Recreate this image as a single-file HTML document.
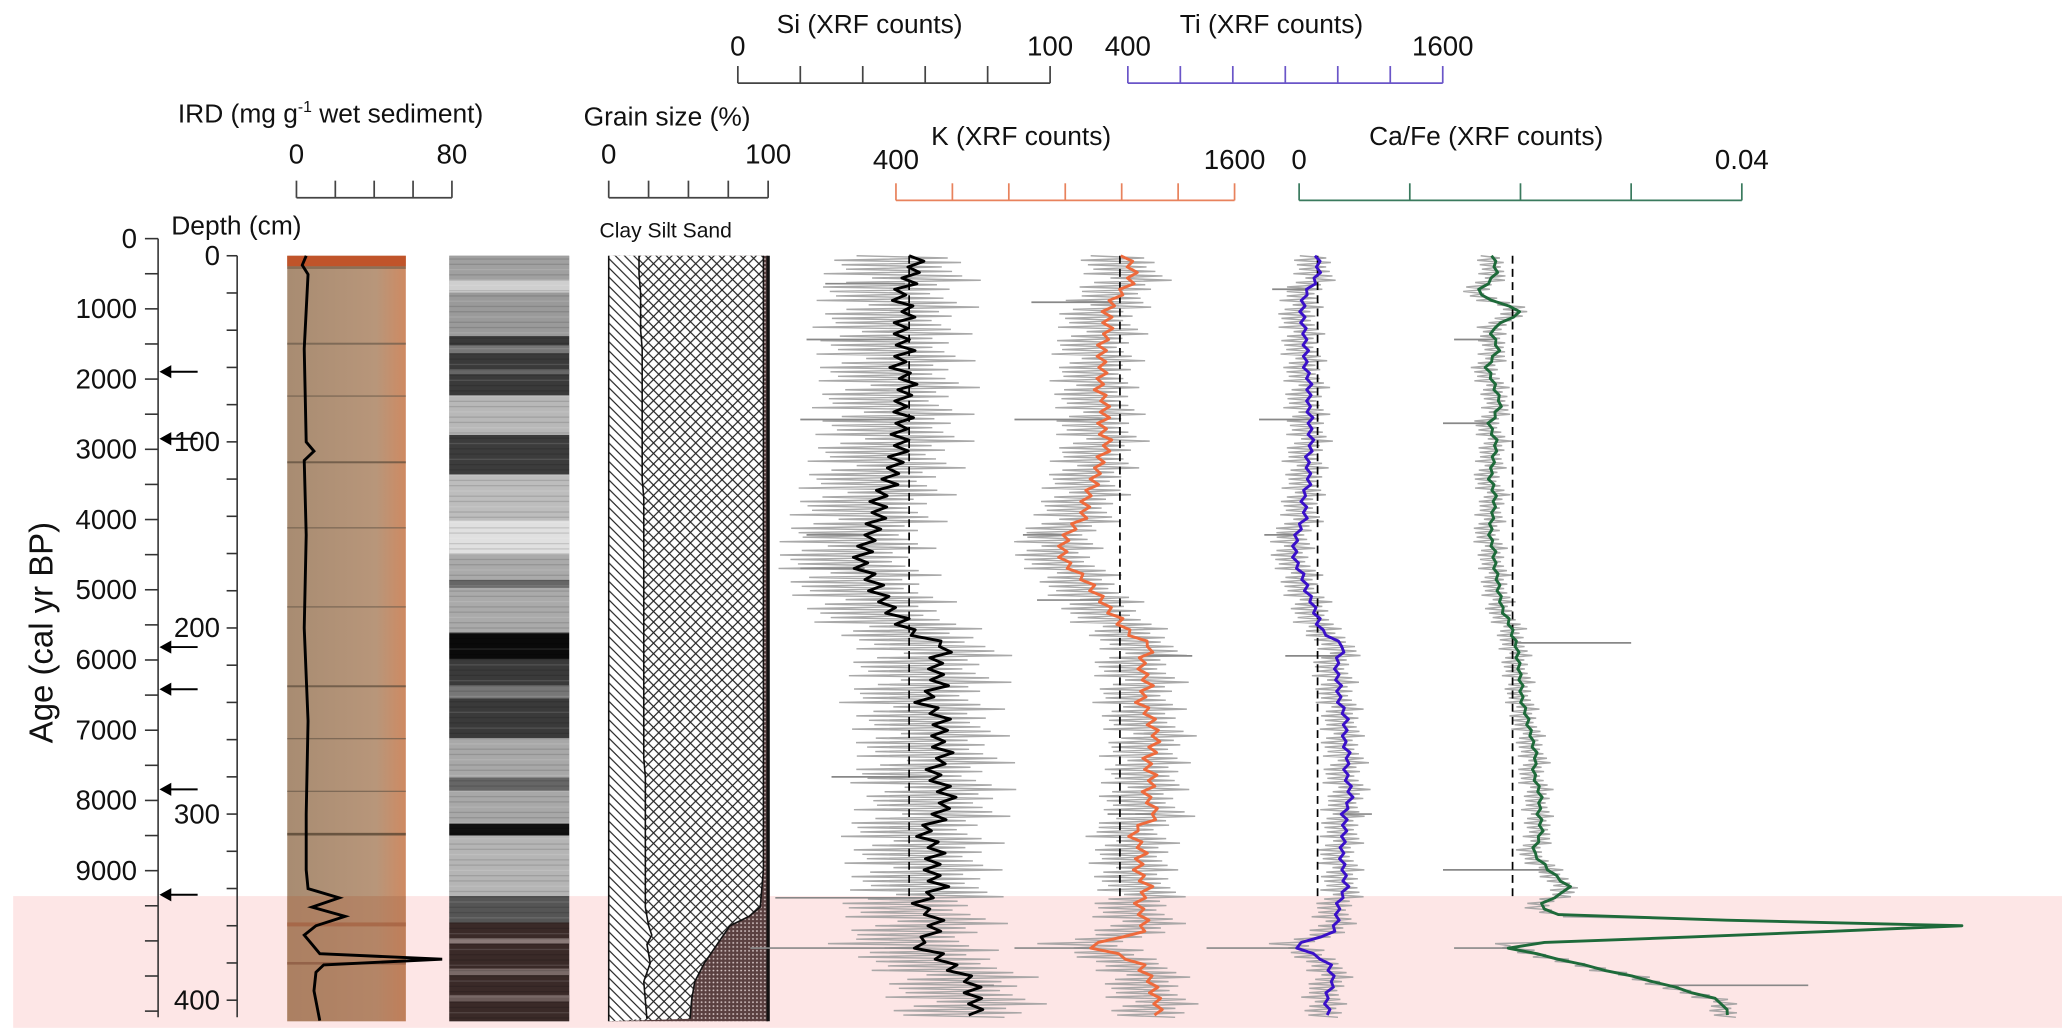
<!DOCTYPE html>
<html><head><meta charset="utf-8"><style>
html,body{margin:0;padding:0;background:#fff;}
svg{display:block;font-family:"Liberation Sans",Arial,sans-serif;}
</style></head><body>
<svg id="chart" width="2062" height="1028" viewBox="0 0 1565 780" xmlns="http://www.w3.org/2000/svg">
<defs>
<pattern id="clayPat" width="7" height="7" patternUnits="userSpaceOnUse"><rect width="7" height="7" fill="#fff"/><path d="M0,0 L7,7 M-1,6 L1,8 M6,-1 L8,1" stroke="#222" stroke-width="0.9"/></pattern>
<pattern id="siltPat" width="8" height="8" patternUnits="userSpaceOnUse"><rect width="8" height="8" fill="#fff"/><path d="M0,0 L8,8 M8,0 L0,8" stroke="#222" stroke-width="0.9"/></pattern>
<pattern id="sandPat" width="3" height="3" patternUnits="userSpaceOnUse"><rect width="3" height="3" fill="#5a4040"/><circle cx="1.5" cy="1.5" r="0.7" fill="#d8c8c8"/></pattern>
<linearGradient id="coreGrad" x1="0" x2="1" y1="0" y2="0"><stop offset="0" stop-color="#a88c72"/><stop offset="0.75" stop-color="#b8967a"/><stop offset="1" stop-color="#cf8a62"/></linearGradient>
</defs>
</svg>
<script>
// ---- data ----
const depths=[0,10,20,30,40,50,60,70,80,90,100,110,120,130,140,150,160,170,180,190,200,210,220,230,240,250,260,270,280,290,300,310,320,330,340,350,355,360,365,370,380,390,400,410];
const siVals=[57,55,52,54,51,53,52,54,51,53,52,50,48,46,44,42,39,41,44,48,54,66,62,64,60,65,63,66,62,67,64,60,63,61,64,58,62,63,61,56,68,74,75,76];
const kVals=[1210,1240,1200,1140,1150,1120,1140,1110,1140,1130,1150,1120,1100,1080,1060,1000,980,1040,1100,1150,1210,1300,1260,1290,1270,1300,1320,1290,1310,1280,1320,1240,1270,1250,1290,1260,1270,1280,1250,1060,1270,1300,1320,1330];
const tiVals=[1120,1125,1080,1060,1070,1075,1080,1090,1085,1095,1100,1080,1090,1070,1075,1040,1030,1060,1080,1110,1130,1220,1190,1200,1210,1230,1220,1240,1230,1250,1220,1230,1210,1220,1230,1200,1195,1190,1170,1020,1170,1180,1150,1170];
const caFeVals=[.0175,.0178,.0160,.0200,.0172,.0180,.0170,.0176,.0182,.0172,.0178,.0175,.0172,.0178,.0174,.0172,.0176,.0178,.0180,.0183,.0192,.0196,.0198,.0200,.0202,.0206,.0210,.0214,.0212,.0218,.0216,.0220,.0210,.0225,.0245,.0215,.024,.060,.040,.0175,.025,.032,.038,.039];
const clayPct=[19,19,20,20,20,21,21,21,21,21,21,21,21,22,22,22,22,22,22,22,22,22,22,22,22,22,22,22,23,23,23,23,23,23,23,23,24,25,27,24,26,22,23,24];
const claySiltPct=[97,97,97,97,97,97,97,97,97,97,97,97,97,97,97,97,97,97,97,97,97,97,97,97,97,97,97,97,97,97,97,97,97,97,96,95,88,76,72,68,60,54,52,51];
const irdDepths=[0,5,10,50,100,105,110,150,200,250,300,330,340,345,350,355,360,365,370,375,378,381,385,395,411];
const irdVals=[5,3,6,4,5,9,4,5,4,6,5,5,6,22,8,25,10,4,8,12,75,14,10,9,12];
const siSpikeDepths=[15,45,88,150,168,280,345,372,392];
const siSpikeVals=[28,22,20,22,20,30,12,4,82];
const kSpikeDepths=[25,88,150,185,215,300,372];
const kSpikeVals=[880,820,850,900,1450,1150,820];
const tiSpikeDepths=[18,88,150,215,300,372];
const tiSpikeVals=[950,900,920,1000,1330,700];
const caFeSpikeDepths=[45,90,208,330,372,392];
const caFeSpikeVals=[.014,.013,.030,.013,.014,.046];
const ageTicks=[0,1000,2000,3000,4000,5000,6000,7000,8000,9000];
const depthTicks=[0,100,200,300,400];
const arrowAges=[1895,2850,5816,6416,7842,9343];

// ---- scales ----
const NS="http://www.w3.org/2000/svg";
const svg=document.getElementById('chart');
const yD=d=>194+d*1.4125;
const yA=a=>181+a*0.0533;
const lin=(d0,d1,r0,r1)=>v=>r0+(v-d0)/(d1-d0)*(r1-r0);
const xSi=lin(0,100,560,797), xTi=lin(400,1600,856,1095), xK=lin(400,1600,680,937), xCa=lin(0,0.04,986,1322);
const xIrd=lin(0,80,225,343), xGs=lin(0,100,462,583);
function el(tag,attrs,parent){const e=document.createElementNS(NS,tag);for(const k in attrs)e.setAttribute(k,attrs[k]);(parent||svg).appendChild(e);return e;}
function txt(x,y,s,size,anchor,parent){const t=el('text',{x:x,y:y,'font-size':size||21,'text-anchor':anchor||'middle',fill:'#111'},parent);t.textContent=s;return t;}
function interp(ds,vs,d){for(let i=1;i<ds.length;i++){if(d<=ds[i]){const f=(d-ds[i-1])/(ds[i]-ds[i-1]);return vs[i-1]+f*(vs[i]-vs[i-1]);}}return vs[vs.length-1];}

// pink band
const band=el('rect',{x:10,y:680,width:1555,height:100,fill:'#fde6e6'});



// ---- age axis ----
const ga=el('g',{});


el('line',{x1:120,y1:181,x2:120,y2:772,stroke:'#333','stroke-width':1.2},ga);
for(let a=0;a<=11000;a+=500){el('line',{x1:110,y1:yA(a),x2:120,y2:yA(a),stroke:'#333','stroke-width':1.2},ga);}
ageTicks.forEach(a=>{const t=txt(104,yA(a)+7,String(a),21,'end',ga);});
const at=txt(0,0,'Age (cal yr BP)',25,'middle');
at.setAttribute('transform','translate(40,480) rotate(-90)');


arrowAges.forEach(a=>{const g=el('g',{});
 el('line',{x1:150,y1:yA(a),x2:128,y2:yA(a),stroke:'#000','stroke-width':1.5},g);
 el('path',{d:`M121,${yA(a)} l9,-5 l0,10 z`,fill:'#000'},g);});

// ---- depth axis ----
const gd=el('g',{});


el('line',{x1:180,y1:194,x2:180,y2:772,stroke:'#333','stroke-width':1.2},gd);
for(let d=0;d<=400;d+=20){el('line',{x1:172,y1:yD(d),x2:180,y2:yD(d),stroke:'#333','stroke-width':1.2},gd);}
depthTicks.forEach(d=>{const t=txt(167,yD(d)+7,String(d),21,'end',gd);});
const dt=txt(130,178,'Depth (cm)',20,'start');



// ---- core photo ----
const cp=el('g',{});


el('rect',{x:218,y:194,width:90,height:581,fill:'url(#coreGrad)'},cp);
el('rect',{x:218,y:194,width:90,height:8,fill:'#c0542a'},cp);
[[202,2,'#7a6048'],[260,1.5,'#6a5a4a'],[300,1,'#6a5a4a'],[350,1.5,'#5a4a3a'],[400,1,'#6a5a4a'],[460,1,'#6a5a4a'],[520,1.5,'#5a4a3a'],[560,1,'#6a5a4a'],[600,1,'#6a5a4a'],[632,2,'#4a3a2a'],[700,3,'#9a5030'],[730,2,'#6a4030']].forEach(s=>el('rect',{x:218,y:s[0],width:90,height:s[1],fill:s[2],opacity:0.7},cp));
el('rect',{x:218,y:680,width:90,height:95,fill:'#b07050',opacity:0.45},cp);
let p='';for(let i=0;i<irdDepths.length;i++)p+=(i?'L':'M')+xIrd(irdVals[i]).toFixed(1)+','+yD(irdDepths[i]).toFixed(1);
const ird=el('path',{d:p,fill:'none',stroke:'#000','stroke-width':2.2});



// ---- grayscale image ----
const gi=el('g',{});


el('rect',{x:341,y:194,width:91,height:581,fill:'#8a8a8a'},gi);
[[194,212,'#a0a0a0'],[212,222,'#cfcfcf'],[222,255,'#9a9a9a'],[255,300,'#3a3a3a'],[262,268,'#777'],[280,284,'#666'],[300,330,'#b8b8b8'],[330,360,'#3c3c3c'],[360,395,'#bdbdbd'],[395,420,'#e0e0e0'],[420,480,'#aaaaaa'],[440,446,'#666'],[480,500,'#0a0a0a'],[500,560,'#3a3a3a'],[520,530,'#777'],[560,625,'#a8a8a8'],[590,600,'#666'],[625,634,'#111'],[634,680,'#b5b5b5'],[680,700,'#555'],[700,775,'#3a2a28'],[712,716,'#8a7a78'],[735,740,'#7a6a68'],[755,760,'#6a5a58']].forEach(s=>el('rect',{x:341,y:s[0],width:91,height:s[1]-s[0],fill:s[2]},gi));
for(let y=196;y<775;y+=4){el('rect',{x:341,y:y,width:91,height:1,fill:(y%12===0)?'#ffffff':'#000',opacity:0.12},gi);}

// ---- grain size ----
const gg=el('g',{});


const yEnd=775;
let clayPts=[],csPts=[];
for(let i=0;i<depths.length;i++){const y=Math.min(yD(depths[i]),yEnd);clayPts.push([xGs(clayPct[i]),y]);csPts.push([xGs(claySiltPct[i]),y]);}
const L=xGs(0),R=xGs(100);
const poly=(pts)=>pts.map(q=>q[0].toFixed(1)+','+q[1].toFixed(1)).join(' ');
el('rect',{x:L,y:194,width:R-L,height:yEnd-194,fill:'url(#sandPat)'},gg);
el('polygon',{points:poly([[L,194]].concat(csPts,[[L,yEnd]])),fill:'url(#siltPat)'},gg);
el('polygon',{points:poly([[L,194]].concat(clayPts,[[L,yEnd]])),fill:'url(#clayPat)'},gg);
el('polyline',{points:poly(clayPts),fill:'none',stroke:'#111','stroke-width':1.2},gg);
el('polyline',{points:poly(csPts),fill:'none',stroke:'#111','stroke-width':1.2},gg);
el('line',{x1:L,y1:194,x2:L,y2:yEnd,stroke:'#111','stroke-width':1.2},gg);
el('line',{x1:R,y1:194,x2:R,y2:yEnd,stroke:'#111','stroke-width':2.5},gg);
const cst=txt(455,180,'Clay Silt Sand',16,'start');



// ---- top axes ----
function topAxis(name,x0,x1,y,n,color,lab0,lab1,labY,title,titleX,titleY,titleAnchor){
 const g=el('g',{});
 el('line',{x1:x0,y1:y,x2:x1,y2:y,stroke:color,'stroke-width':1.3},g);
 for(let i=0;i<=n;i++){const x=x0+(x1-x0)*i/n;el('line',{x1:x,y1:y,x2:x,y2:y-13,stroke:color,'stroke-width':1.3},g);}
 txt(x0,labY,lab0,21,'middle',g);txt(x1,labY,lab1,21,'middle',g);
 if(title){const t=txt(titleX,titleY,'',20,titleAnchor||'middle',g);t.innerHTML=title;}
}
topAxis('si-axis',560,797,63,5,'#444','0','100',42,'Si (XRF counts)',660,25);
topAxis('ti-axis',856,1095,63,6,'#6a55c8','400','1600',42,'Ti (XRF counts)',965,25);
topAxis('ird-axis',225,343,150,4,'#444','0','80',124,'IRD (mg g<tspan dy="-8" font-size="12">-1</tspan><tspan dy="8"> wet sediment)</tspan>',135,93,'start');
topAxis('grain-size-axis',462,583,150,4,'#444','0','100',124,'Grain size (%)',443,95,'start');
topAxis('k-axis',680,937,152,6,'#e8825c','400','1600',128,'K (XRF counts)',775,110);
topAxis('cafe-axis',986,1322,152,4,'#3a7a5e','0','0.04',128,'Ca/Fe (XRF counts)',1128,110);

// ---- XRF series ----
const zig=[1,0.55,1.35,0.8,1.2,0.5,1.1,0.7,1.45,0.9,0.6,1.25];
function series(name,vals,xs,sd,color,dashX,spD,spV){
 const g=el('g',{});
 let raw=[],sm=[];let k=0;
 for(let d=0;d<=410;d+=1.2){const v=interp(depths,vals,d);const y=yD(d);
  const s=(k%2?1:-1)*sd*zig[k%zig.length];raw.push([xs(v+s),y]);k++;}
 k=0;
 for(let d=0;d<=410;d+=3){const v=interp(depths,vals,d);
  sm.push([xs(v+(k%2?1:-1)*sd*0.14*zig[(k+3)%zig.length]),yD(d)]);k++;}
 el('polyline',{points:poly(raw),fill:'none',stroke:'#a0a0a0','stroke-width':1.1,opacity:0.9},g);
 for(let i=0;i<spD.length;i++){const y=yD(spD[i]);el('line',{x1:xs(interp(depths,vals,spD[i])),y1:y,x2:xs(spV[i]),y2:y,stroke:'#888','stroke-width':1.3},g);}
 el('line',{x1:dashX,y1:194,x2:dashX,y2:680,stroke:'#000','stroke-width':1.3,'stroke-dasharray':'6,4'},g);
 el('polyline',{points:poly(sm),fill:'none',stroke:color,'stroke-width':2.2,'stroke-linejoin':'round'},g);
}
series('si-series',siVals,xSi,19,'#000',690,siSpikeDepths,siSpikeVals);
series('k-series',kVals,xK,120,'#ee6a3c',850,kSpikeDepths,kSpikeVals);
series('ti-series',tiVals,xTi,65,'#3a10c8',1000,tiSpikeDepths,tiSpikeVals);
series('cafe-series',caFeVals,xCa,0.0011,'#1e6a3a',1148,caFeSpikeDepths,caFeSpikeVals);
</script>
</body></html>
